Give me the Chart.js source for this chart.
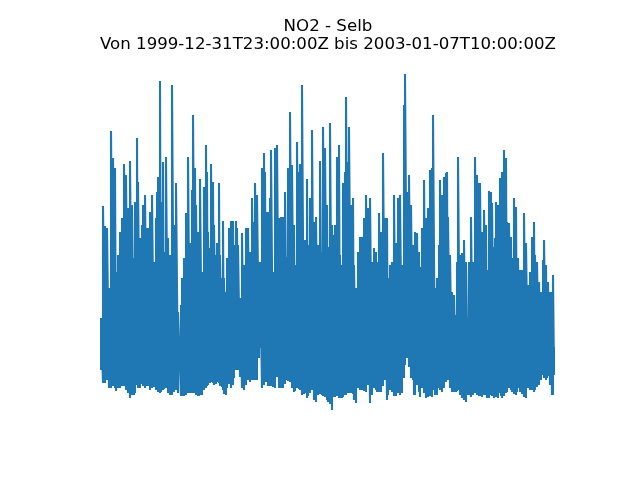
<!DOCTYPE html>
<html lang="de">
<head>
  <meta charset="utf-8">
  <title>NO2 - Selb</title>
  <style>
    body {
      margin: 0;
      background: #ffffff;
    }
    #chart-container {
      width: 640px;
      height: 480px;
    }
  </style>
  <script src="https://cdn.jsdelivr.net/npm/chart.js"></script>
</head>
<body>
<div id="chart-container">
  <canvas id="no2Chart" width="640" height="480"></canvas>
</div>
<script>
// Titel
var titleLines = ['NO2 - Selb', 'Von 1999-12-31T23:00:00Z bis 2003-01-07T10:00:00Z'];

// Abtastschritte (1 Schritt ~ 58 h), jeweils Minimum und Maximum im Schritt (µg/m³)
var sampleStep = [
  1, 3, 5, 7, 9, 11, 13, 15, 16, 18, 20, 22, 24, 26, 28, 30, 32, 34, 35, 37,
  38, 40, 42, 43, 45, 47, 49, 50, 52, 54, 56, 57, 58, 60, 61, 63, 64, 66, 68, 70,
  72, 74, 76, 78, 81, 82, 84, 86, 88, 90, 92, 93, 95, 96, 98, 99, 100, 102, 104, 106,
  107, 108, 110, 111, 113, 114, 116, 117, 119, 120, 122, 123, 124, 126, 127, 129, 131, 133, 134, 136,
  137, 138, 140, 142, 144, 146, 148, 150, 152, 154, 155, 157, 159, 160, 162, 164, 165, 166, 168, 170,
  171, 173, 175, 177, 179, 181, 183, 185, 187, 188, 190, 192, 194, 195, 197, 199, 200, 202, 204, 205,
  207, 208, 210, 212, 214, 216, 218, 220, 222, 223, 225, 227, 228, 230, 232, 234, 235, 237, 239, 240,
  242, 243, 245, 246, 248, 249, 251, 253, 254, 256, 258, 260, 262, 264, 266, 268, 270, 272, 274, 276,
  277, 279, 281, 283, 285, 287, 288, 290, 292, 294, 296, 298, 300, 302, 304, 305, 307, 309, 311, 313,
  314, 315, 317, 319, 320, 322, 324, 326, 328, 330, 332, 333, 335, 337, 339, 340, 342, 344, 346, 347,
  348, 350, 352, 354, 356, 357, 358, 360, 362, 364, 366, 368, 369, 371, 373, 375, 377, 379, 380, 382,
  384, 386, 387, 389, 391, 392, 394, 395, 396, 398, 400, 401, 402, 404, 406, 407, 409, 411, 412, 414,
  416, 417, 418, 420, 422, 424, 426, 428, 430, 432, 434, 435, 437, 439, 441, 443, 444, 446, 447, 448,
  450, 452, 453, 454
];

var stepMax = [
  46, 102, 92, 91, 61, 139.5, 126, 121, 69, 77.5, 89, 96, 123, 117.5, 101, 124.5, 102.5, 76, 104, 136,
  114, 86, 92.5, 102.5, 107.5, 91, 91, 99, 107.5, 74, 96, 109, 116.5, 164.5, 104, 124, 79, 126.5, 86, 77.5,
  162.5, 92.5, 113.5, 49, 52.5, 66, 76, 98.5, 126.5, 83.5, 110, 147.5, 121, 102.5, 89, 69, 115.5, 69, 111.5, 132.5,
  119, 89, 81, 123, 114, 92.5, 77.5, 83.5, 113.5, 77.5, 66, 94.5, 66, 59, 76, 91, 94.5, 94.5, 82.5, 94.5,
  91, 82.5, 56, 88.5, 72.5, 91, 91, 79, 106, 94, 113.5, 107.5, 74, 74, 121, 128.5, 119, 99, 99, 106,
  130, 69, 131, 132.5, 96, 96.5, 96.5, 109, 76.5, 121, 149, 122.5, 92.5, 72.5, 134, 119, 123, 162.5, 61, 85,
  115.5, 82.5, 106, 140, 94, 96.5, 82.5, 124.5, 79, 141.5, 131, 102.5, 81.5, 143.5, 92.5, 87.5, 92.5, 126.5, 132.5, 77.5,
  72.5, 113.5, 119, 156.5, 124, 141.5, 102.5, 106, 72.5, 61, 79, 86.5, 86.5, 96, 107.5, 101, 106, 74, 81, 79,
  74, 98.5, 89, 128.5, 96, 96, 66, 72.5, 74, 107.5, 83.5, 106, 107.5, 72.5, 152.5, 168, 109, 117.5, 102.5, 82.5,
  74, 89, 88.5, 79, 71.5, 91, 115, 96, 101, 120, 121, 147.5, 61, 66, 82.5, 115, 107.5, 116.5, 118.5, 119,
  96.5, 77.5, 59, 57.5, 47.5, 74, 126.5, 77.5, 78.5, 85, 74, 46, 74, 96.5, 74, 126.5, 117.5, 113.5, 113.5, 89,
  100, 92.5, 70, 109.5, 109, 103.5, 81.5, 86, 104, 102.5, 116, 106, 119, 130, 126, 94, 93.5, 86.5, 76, 106,
  101.5, 46, 76, 70, 70, 98.5, 83.5, 62.5, 69, 86.5, 94, 77.5, 74, 64, 59, 75, 85, 72.5, 64, 64,
  59, 59, 67.5, 31.5
];

var stepMin = [
  20, 13.5, 13.5, 15, 11, 11, 12, 11, 9.5, 11, 11, 12, 12, 10, 8.5, 6, 7.5, 7.5, 8.5, 12.5,
  11, 11, 13, 12, 11, 12, 12, 10, 11, 11.5, 10, 10, 9, 8.5, 9, 10, 10.5, 11, 8.5, 7.5,
  7.5, 9, 10, 8.5, 7, 7, 7, 7.5, 8.5, 8.5, 8.5, 8.5, 8.5, 7.5, 7, 7, 7.5, 7.5, 10, 11,
  12, 12.5, 13.5, 14, 13.5, 12.5, 13, 14, 13.5, 12, 11.5, 10, 8, 7.5, 11, 13, 11, 12.5, 16, 20,
  24, 20, 16.5, 11, 10, 12.5, 15, 14, 15, 15, 15, 15, 26, 31, 11, 12.5, 16, 14, 12, 12,
  12, 11.5, 11, 16.5, 11, 11, 11, 13, 15, 14.5, 14, 11, 9, 9.5, 11, 10.5, 10, 7.5, 8, 8.5,
  6, 7, 8.5, 10, 5, 4, 7.5, 8, 7.5, 7, 6.5, 5, 4, 3, 0, 6.5, 6.5, 7, 6, 6,
  6, 6.5, 7.5, 7.5, 8.5, 8.5, 8.5, 8, 5, 3.5, 11, 10, 10, 9.5, 9, 12.5, 3.5, 7.5, 11, 10,
  9, 9, 9, 12, 15, 5, 7.5, 10, 9, 7, 7, 8.5, 7.5, 8.5, 16, 22.5, 26, 21.5, 16, 15,
  7.5, 7.5, 12.5, 9, 6.5, 11, 8.5, 6, 6.5, 7, 6.5, 10, 7.5, 7.5, 11, 10, 9, 11, 14, 15,
  15, 11, 9, 9, 9, 9.5, 10, 7.5, 6, 5, 4, 7.5, 7.5, 6.5, 7.5, 8.5, 7.5, 7, 7, 6.5,
  7.5, 7.5, 6, 6, 7.5, 7, 6, 6.5, 6.5, 6, 8.5, 7, 6, 7, 8.5, 9, 11, 10, 9, 8,
  7.5, 9, 11, 9, 8, 6.5, 6, 11, 10, 10, 9, 10, 11.5, 12.5, 15, 17.5, 16, 15, 16, 17,
  12.5, 7.5, 7.5, 17.5
];

// Linie: in jedem Schritt vom Minimum zum Maximum
var linePoints = [];
for (var i = 0; i < sampleStep.length; i++) {
  linePoints.push({ x: sampleStep[i], y: stepMin[i] });
  linePoints.push({ x: sampleStep[i], y: stepMax[i] });
}

var ctx = document.getElementById('no2Chart').getContext('2d');
var no2Chart = new Chart(ctx, {
  type: 'line',
  data: {
    datasets: [{
      label: 'NO2',
      data: linePoints,
      borderColor: '#1f77b4',
      borderWidth: 2.08,
      pointRadius: 0,
      tension: 0,
      fill: false
    }]
  },
  options: {
    responsive: false,
    animation: false,
    parsing: false,
    layout: {
      padding: { left: 100, right: 84, top: 0, bottom: 70 }
    },
    scales: {
      x: { type: 'linear', min: 0, max: 456, display: false },
      y: { min: 0, max: 168.5, display: false }
    },
    plugins: {
      legend: { display: false },
      tooltip: { enabled: false },
      title: {
        display: true,
        fullSize: false,
        text: titleLines,
        color: '#000000',
        font: { family: 'DejaVu Sans', size: 16.67, weight: 'normal', lineHeight: 1.05 },
        padding: { top: 18, bottom: 20 }
      }
    }
  }
});
</script>
</body>
</html>
